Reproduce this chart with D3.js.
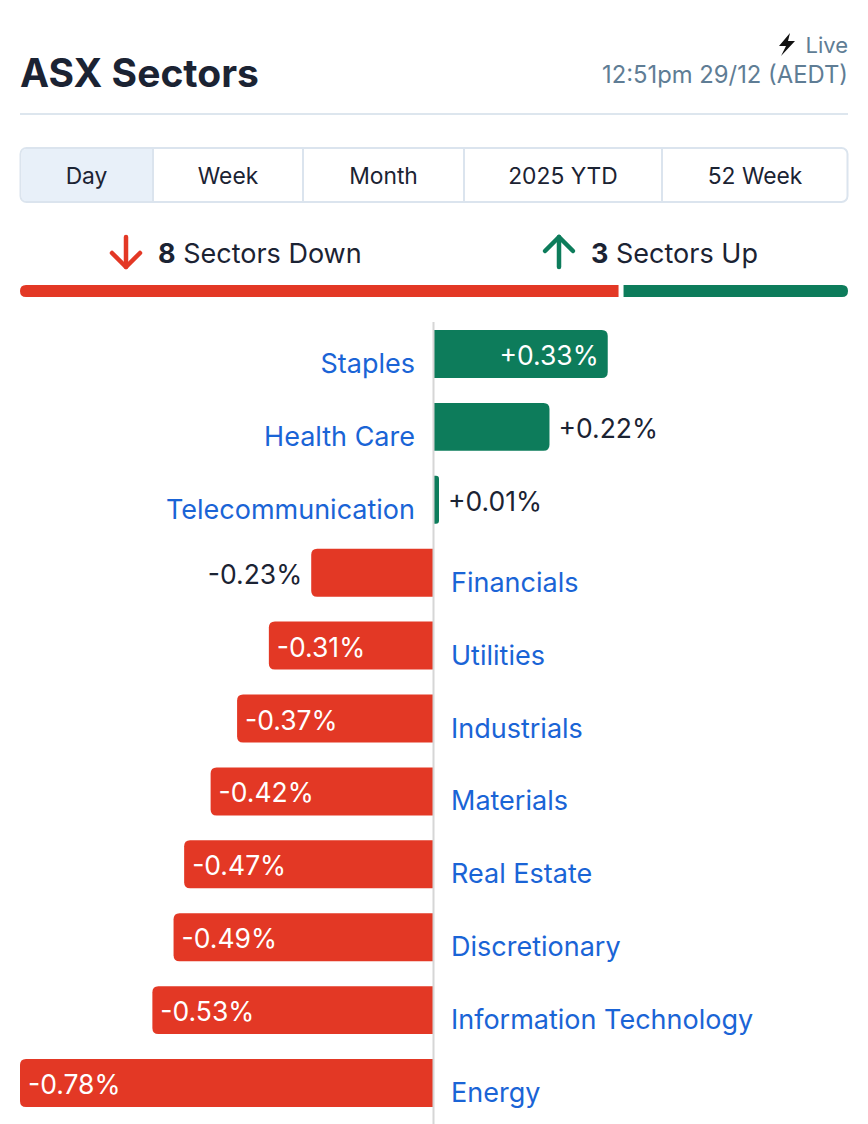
<!DOCTYPE html>
<html>
<head>
<meta charset="utf-8">
<script src="https://cdn.jsdelivr.net/npm/d3@7"></script>
<style>
  html, body { margin: 0; padding: 0; background: #fff; }
  svg { display: block; font-family: Inter, "Noto Sans", sans-serif; }
</style>
</head>
<body>
<svg id="chart" width="868" height="1124"></svg>
<script>
// ---- data ----
const title = "ASX Sectors";
const liveLabel = "Live";
const timestamp = "12:51pm 29/12 (AEDT)";
const tabs = ["Day", "Week", "Month", "2025 YTD", "52 Week"];
const activeTab = "Day";
const categories = ["Staples", "Health Care", "Telecommunication", "Financials", "Utilities",
  "Industrials", "Materials", "Real Estate", "Discretionary", "Information Technology", "Energy"];
const values = [0.33, 0.22, 0.01, -0.23, -0.31, -0.37, -0.42, -0.47, -0.49, -0.53, -0.78];
const downCount = 8;
const upCount = 3;

// ---- styles ----
const RED = "#e33825", GREEN = "#0d7c5b", BLUE = "#1a64d6", DARK = "#1b2333", GRAY = "#5f7d95";
const W = 868, L = 20, R = 848;

const svg = d3.select("#chart");

// Header
svg.append("text").attr("x", L).attr("y", 87).attr("font-size", 39).attr("font-weight", 700)
  .attr("fill", DARK).text(title);
svg.append("text").attr("x", R).attr("y", 53).attr("text-anchor", "end").attr("font-size", 22)
  .attr("fill", GRAY).text(liveLabel);
svg.append("path").attr("d", "M790,33 L779,46 L786,46 L781,56 L795,41 L788,41 Z").attr("fill", "#111");
svg.append("text").attr("x", R).attr("y", 83).attr("text-anchor", "end").attr("font-size", 23.8)
  .attr("fill", GRAY).text(timestamp);
svg.append("line").attr("x1", L).attr("x2", R).attr("y1", 114).attr("y2", 114)
  .attr("stroke", "#dde6ee").attr("stroke-width", 2);

// Tabs
const tabEdges = [20, 153, 303, 464, 662, 848];
const tabG = svg.append("g");
tabG.append("rect").attr("x", L + 0.5).attr("y", 148).attr("width", R - L - 1).attr("height", 54)
  .attr("rx", 6).attr("fill", "#fff").attr("stroke", "#dbe4ee").attr("stroke-width", 2);
tabs.forEach((t, i) => {
  const x0 = tabEdges[i], x1 = tabEdges[i + 1];
  if (t === activeTab) {
    tabG.append("path")
      .attr("d", `M${x1},149 L${x0 + 6},149 Q${x0 + 1.5},149 ${x0 + 1.5},154 L${x0 + 1.5},196 Q${x0 + 1.5},201 ${x0 + 6},201 L${x1},201 Z`)
      .attr("fill", "#e8f0f9");
  }
  if (i > 0) {
    tabG.append("line").attr("x1", x0).attr("x2", x0).attr("y1", 149).attr("y2", 201)
      .attr("stroke", "#dbe4ee").attr("stroke-width", 2);
  }
  tabG.append("text").attr("x", (x0 + x1) / 2).attr("y", 184).attr("text-anchor", "middle")
    .attr("font-size", 22.8).attr("fill", DARK).text(t);
});

// Summary
function arrow(cx, dir, color) {
  const top = 237, bot = 267;
  const g = svg.append("g").attr("stroke", color).attr("stroke-width", 4.5).attr("fill", "none")
    .attr("stroke-linecap", "round").attr("stroke-linejoin", "round");
  g.append("line").attr("x1", cx).attr("x2", cx).attr("y1", top).attr("y2", bot);
  if (dir === "down") g.append("polyline").attr("points", `${cx - 14},${bot - 14} ${cx},${bot} ${cx + 14},${bot - 14}`);
  else g.append("polyline").attr("points", `${cx - 14},${top + 14} ${cx},${top} ${cx + 14},${top + 14}`);
}
arrow(126, "down", RED);
arrow(559, "up", GREEN);
const t1 = svg.append("text").attr("x", 158).attr("y", 263).attr("font-size", 27).attr("fill", DARK);
t1.append("tspan").attr("font-weight", 700).text(downCount);
t1.append("tspan").text(" Sectors Down");
const t2 = svg.append("text").attr("x", 591).attr("y", 263).attr("font-size", 27).attr("fill", DARK);
t2.append("tspan").attr("font-weight", 700).text(upCount);
t2.append("tspan").text(" Sectors Up");

// Breadth bar
const gap = 5;
const breadth = d3.scaleLinear().domain([0, downCount + upCount]).range([L, R - gap]);
svg.append("path").attr("d", roundedH(L, 285, breadth(downCount) - L, 12, 6, true, false)).attr("fill", RED);
svg.append("path").attr("d", roundedH(breadth(downCount) + gap, 285, R - breadth(downCount) - gap, 12, 6, false, true)).attr("fill", GREEN);

function roundedH(x, y, w, h, r, leftR, rightR) {
  r = Math.min(r, w / 2, h / 2);
  const rl = leftR ? r : 0, rr = rightR ? r : 0;
  return `M${x + rl},${y} L${x + w - rr},${y} Q${x + w},${y} ${x + w},${y + rr} L${x + w},${y + h - rr} Q${x + w},${y + h} ${x + w - rr},${y + h} L${x + rl},${y + h} Q${x},${y + h} ${x},${y + h - rl} L${x},${y + rl} Q${x},${y} ${x + rl},${y} Z`;
}

// Bars
const x = d3.scaleLinear().domain([-0.78, 0.78]).range([L, 846]);
const y = d3.scaleBand().domain(categories).range([330, 1107]).paddingInner(0.342).paddingOuter(0);
const x0 = x(0);
const data = categories.map((c, i) => ({ c, v: values[i] }));
const fmt = v => (v > 0 ? "+" : "") + v.toFixed(2) + "%";

const rows = svg.append("g").selectAll("g").data(data).join("g");
rows.append("path").attr("fill", d => d.v >= 0 ? GREEN : RED).attr("d", d => {
  const w = Math.max(Math.abs(x(d.v) - x0), 6);
  return d.v >= 0 ? roundedH(x0, y(d.c), w, y.bandwidth(), 6, false, true)
                  : roundedH(x0 - w, y(d.c), w, y.bandwidth(), 6, true, false);
});
const inside = d => Math.abs(x(d.v) - x0) > 150;
rows.append("text")
  .attr("font-size", 26.5)
  .attr("dominant-baseline", "central")
  .attr("y", d => y(d.c) + y.bandwidth() / 2 + 1)
  .attr("fill", d => inside(d) ? "#fff" : DARK)
  .attr("text-anchor", d => (d.v >= 0) === inside(d) ? "end" : "start")
  .attr("x", d => {
    const xe = x(d.v);
    if (d.v >= 0) return inside(d) ? xe - 9 : Math.max(xe, x0 + 6) + 9;
    return inside(d) ? xe + 8 : xe - 9;
  })
  .text(d => fmt(d.v));
rows.append("text")
  .attr("font-size", 27)
  .attr("fill", BLUE)
  .attr("y", d => y(d.c) + y.bandwidth() / 2 + 19)
  .attr("x", d => d.v >= 0 ? 415 : 451)
  .attr("text-anchor", d => d.v >= 0 ? "end" : "start")
  .text(d => d.c);

// Zero axis line
svg.append("line").attr("x1", x0 + 0.5).attr("x2", x0 + 0.5).attr("y1", 322).attr("y2", 1124)
  .attr("stroke", "#d6d6d6").attr("stroke-width", 2);
</script>
</body>
</html>
